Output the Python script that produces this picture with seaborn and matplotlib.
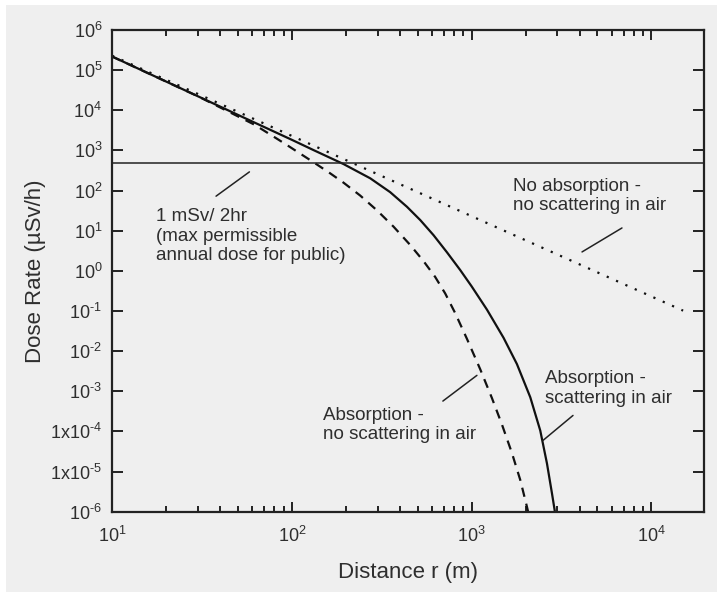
import numpy as np
import pandas as pd
import matplotlib
matplotlib.use("Agg")
import matplotlib.pyplot as plt
from matplotlib.patches import Rectangle
import seaborn as sns

# ---- data ----
no_abs_r = [10, 100, 1000, 10000, 15000]
no_abs_dose = [2.3e5, 2.3e3, 23, 0.23, 0.102]

abs_scat_r = [10, 30, 57, 100, 132, 194, 273, 352, 437, 518, 614, 729, 864, 1000,
              1217, 1505, 1786, 2119, 2408, 2624, 2799, 2919]
abs_scat_dose = [2.19e5, 2.24e4, 5.89e3, 1.84e3, 1.02e3, 457, 202, 91.6, 39.4, 18.4, 7.74,
                 2.90, 1.047, 0.411, 0.108, 0.0215, 4.76e-3, 7.10e-4, 1.05e-4, 1.59e-5,
                 2.82e-6, 8.7e-7]

abs_noscat_r = [10, 30, 62, 84, 98, 132, 163, 194, 240, 297, 368, 455, 540, 627, 713,
                810, 941, 1117, 1297, 1474, 1676, 1865, 2031, 2065]
abs_noscat_dose = [2.19e5, 2.24e4, 4.38e3, 1.87e3, 1.205e3, 508, 271, 157, 75.2, 32.4,
                   12.6, 4.43, 1.75, 0.705, 0.273, 0.0887, 0.0204, 3.51e-3, 6.76e-4,
                   1.49e-4, 2.88e-5, 6.12e-6, 1.32e-6, 9.6e-7]

limit_dose = 500

y_ticks = [1e6, 1e5, 1e4, 1e3, 1e2, 1e1, 1e0, 1e-1, 1e-2, 1e-3, 1e-4, 1e-5, 1e-6]
y_labels = [r"$10^{6}$", r"$10^{5}$", r"$10^{4}$", r"$10^{3}$", r"$10^{2}$", r"$10^{1}$",
            r"$10^{0}$", r"$10^{\text{-}1}$", r"$10^{\text{-}2}$", r"$10^{\text{-}3}$",
            r"$1\mathrm{x}10^{\text{-}4}$", r"$1\mathrm{x}10^{\text{-}5}$", r"$10^{\text{-}6}$"]
x_ticks = [10, 100, 1000, 10000]
x_labels = [r"$10^{1}$", r"$10^{2}$", r"$10^{3}$", r"$10^{4}$"]

sns.set_theme(style="ticks")
plt.rcParams["font.family"] = ["Liberation Sans", "DejaVu Sans"]
plt.rcParams["mathtext.fontset"] = "custom"
plt.rcParams["mathtext.rm"] = "Liberation Sans"
plt.rcParams["mathtext.it"] = "Liberation Sans:italic"
plt.rcParams["mathtext.bf"] = "Liberation Sans:bold"

BG = "#efefef"
TXT = "#2e2e2e"
LC = "#111111"

fig = plt.figure(figsize=(7.17, 5.92), dpi=100, facecolor="white")
fig.patches.append(Rectangle((6 / 717, 0), 1, 1 - 5 / 592, transform=fig.transFigure,
                             facecolor=BG, edgecolor="none", zorder=-10))
ax = fig.add_axes([112 / 717, 1 - 511.7 / 592, (704 - 112) / 717, (511.7 - 30) / 592])
ax.set_facecolor(BG)
ax.set_xscale("log")
ax.set_yscale("log")

df_a = pd.DataFrame({"r": no_abs_r, "d": no_abs_dose})
df_b = pd.DataFrame({"r": abs_scat_r, "d": abs_scat_dose})
df_c = pd.DataFrame({"r": abs_noscat_r, "d": abs_noscat_dose})

sns.lineplot(data=df_a, x="r", y="d", ax=ax, color=LC, lw=1.6, linestyle=(0, (1, 3.6)))
sns.lineplot(data=df_b, x="r", y="d", ax=ax, color=LC, lw=1.6)
sns.lineplot(data=df_c, x="r", y="d", ax=ax, color=LC, lw=1.6, linestyle=(0, (4.2, 3.2)))
ax.axhline(limit_dose, color="#222222", lw=1.1)

ax.set_xlim(10, 1.96e4)
ax.set_ylim(1e-6, 1e6)

ax.set_yticks(y_ticks)
ax.set_yticklabels(y_labels)
ax.yaxis.set_minor_locator(matplotlib.ticker.NullLocator())
ax.set_xticks(x_ticks)
ax.set_xticklabels(x_labels)
ax.xaxis.set_minor_locator(matplotlib.ticker.LogLocator(base=10, subs=np.arange(2, 10)))
ax.xaxis.set_minor_formatter(matplotlib.ticker.NullFormatter())

ax.tick_params(which="both", direction="in", top=True, right=True, colors="#222222",
               labelcolor=TXT, labelsize=13, width=1.4)
ax.tick_params(axis="y", which="major", length=8, pad=7)
ax.tick_params(axis="x", which="major", length=7, pad=10)
ax.tick_params(axis="x", which="minor", length=4)
for s in ax.spines.values():
    s.set_linewidth(1.6)
    s.set_color("#222222")

ax.set_xlabel("Distance r (m)", fontsize=16, color=TXT, labelpad=12)
ax.set_ylabel("Dose Rate (\u00b5Sv/h)", fontsize=16, color=TXT, labelpad=3)

fs = 13.5
ax.text(17.6, 7.3, "1 mSv/ 2hr\n(max permissible\nannual dose for public)", fontsize=fs,
        color=TXT, ha="left", va="center", linespacing=1.2)
ax.plot([37.9, 58.1], [72.5, 292], color="#222222", lw=1.1)

ax.text(1698, 72.5, "No absorption -\nno scattering in air", fontsize=fs,
        color=TXT, ha="left", va="center", linespacing=1.2)
ax.plot([4111, 6855], [2.96, 11.7], color="#222222", lw=1.1)

ax.text(148.8, 1.44e-4, "Absorption -\nno scattering in air", fontsize=fs,
        color=TXT, ha="left", va="center", linespacing=1.2)
ax.plot([692, 1070], [5.7e-4, 2.49e-3], color="#222222", lw=1.1)

ax.text(2569, 1.19e-3, "Absorption -\nscattering in air", fontsize=fs,
        color=TXT, ha="left", va="center", linespacing=1.2)
ax.plot([2494, 3662], [5.97e-5, 2.5e-4], color="#222222", lw=1.1)

fig.savefig("out.png", dpi=100, facecolor=fig.get_facecolor())
